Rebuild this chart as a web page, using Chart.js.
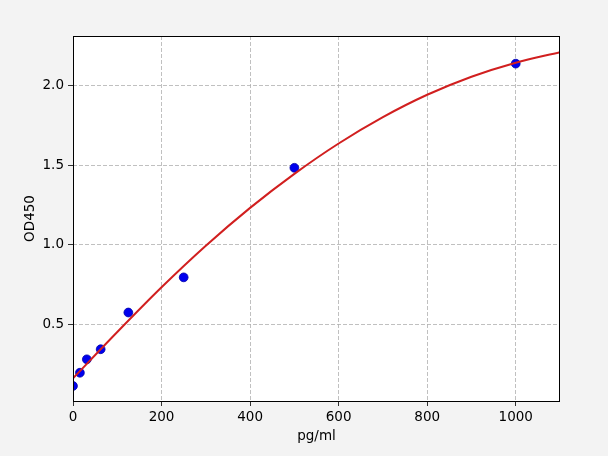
<!DOCTYPE html>
<html>
<head>
<meta charset="utf-8">
<script src="https://cdn.jsdelivr.net/npm/chart.js@4/dist/chart.umd.min.js"></script>
<style>
  html, body { margin: 0; padding: 0; background: #f3f3f3; }
  #wrap { width: 608px; height: 456px; }
</style>
</head>
<body>
<div id="wrap"><canvas id="myChart" width="608" height="456"></canvas></div>
<script>
// standard points (pg/ml vs OD450)
const concX = [0, 15.6, 31.25, 62.5, 125, 250, 500, 1000];
const odY = [0.117, 0.20, 0.284, 0.347, 0.577, 0.797, 1.483, 2.135];

// fitted curve
const curveX = [0, 100, 200, 300, 400, 500, 600, 700, 800, 900, 1000, 1100];
const curveY = [0.165, 0.455, 0.735, 0.995, 1.232, 1.445, 1.635, 1.80, 1.94, 2.053, 2.141, 2.207];

const xTicks = [0, 200, 400, 600, 800, 1000];
const yTicks = [0.5, 1.0, 1.5, 2.0];

const tickFont = { family: 'DejaVu Sans', size: 13.5 };

// white plot area + full frame like matplotlib
const framePlugin = {
    id: 'frame',
    beforeDraw(chart) {
        const a = chart.chartArea, c = chart.ctx;
        c.save();
        c.fillStyle = '#f3f3f3';
        c.fillRect(0, 0, chart.width, chart.height);
        c.fillStyle = '#ffffff';
        c.fillRect(a.left, a.top, a.right - a.left, a.bottom - a.top);
        c.restore();
    },
    afterDraw(chart) {
        const a = chart.chartArea, c = chart.ctx;
        c.save();
        c.strokeStyle = '#000000';
        c.lineWidth = 1;
        c.strokeRect(a.left + 0.5, a.top + 0.5, a.right - a.left - 1, a.bottom - a.top);
        c.restore();
    }
};

let ctx = document.getElementById('myChart').getContext('2d');

var myChart = new Chart(ctx, {
    type: 'scatter',
    data: {
        datasets: [
            {
                type: 'line',
                label: 'fit',
                data: curveX.map((x, i) => ({ x: x, y: curveY[i] })),
                borderColor: '#d11f1f',
                borderWidth: 2,
                pointRadius: 0,
                fill: false,
                cubicInterpolationMode: 'monotone',
                order: 0
            },
            {
                label: 'std',
                data: concX.map((x, i) => ({ x: x, y: odY[i] })),
                backgroundColor: '#0000ee',
                borderColor: '#0000aa',
                borderWidth: 0.8,
                pointRadius: 4.4,
                order: 1
            }
        ]
    },
    options: {
        responsive: false,
        animation: false,
        layout: {
            padding: { left: 0, right: 48, top: 36, bottom: 0 }
        },
        plugins: {
            legend: { display: false },
            tooltip: { enabled: false }
        },
        scales: {
            x: {
                type: 'linear',
                min: 0,
                max: 1100,
                afterBuildTicks(scale) {
                    scale.ticks = xTicks.map(v => ({ value: v }));
                },
                afterFit(scale) { scale.height = 55; },
                ticks: {
                    color: '#000000',
                    font: tickFont,
                    padding: 3,
                    maxRotation: 0,
                    callback: v => String(v)
                },
                grid: {
                    color: '#b0b0b0',
                    lineWidth: 0.8,
                    tickColor: '#000000',
                    tickBorderDash: [],
                    tickLength: 5
                },
                border: { display: false, dash: [4, 2] },
                title: {
                    display: true,
                    text: 'pg/ml',
                    color: '#000000',
                    font: tickFont,
                    padding: { top: 0, bottom: 11 }
                }
            },
            y: {
                type: 'linear',
                min: 0.023,
                max: 2.308,
                afterBuildTicks(scale) {
                    scale.ticks = yTicks.map(v => ({ value: v }));
                },
                afterFit(scale) { scale.width = 73; },
                ticks: {
                    color: '#000000',
                    font: tickFont,
                    padding: 4,
                    callback: v => Number(v).toFixed(1)
                },
                grid: {
                    color: '#b0b0b0',
                    lineWidth: 0.8,
                    tickColor: '#000000',
                    tickBorderDash: [],
                    tickLength: 5
                },
                border: { display: false, dash: [4, 2] },
                title: {
                    display: true,
                    text: 'OD450',
                    color: '#000000',
                    font: tickFont,
                    padding: { top: 22, bottom: 4 }
                }
            }
        }
    },
    plugins: [framePlugin]
});
</script>
</body>
</html>
